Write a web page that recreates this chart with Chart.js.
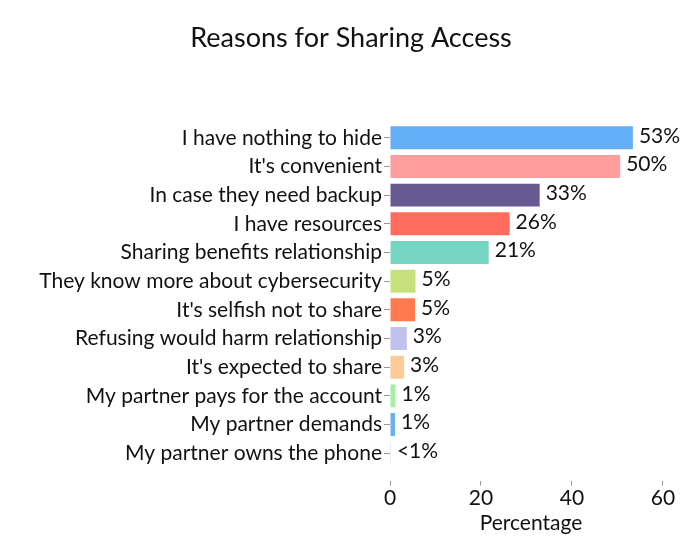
<!DOCTYPE html>
<html>
<head>
<meta charset="utf-8">
<script src="https://cdn.jsdelivr.net/npm/chart.js@4/dist/chart.umd.min.js"></script>
<style>
  html, body { margin: 0; padding: 0; background: #ffffff; }
  #wrap { width: 700px; height: 560px; position: relative; }
</style>
</head>
<body>
<div id="wrap"><canvas id="c"></canvas></div>
<script>
const categories = [
  "I have nothing to hide",
  "It's convenient",
  "In case they need backup",
  "I have resources",
  "Sharing benefits relationship",
  "They know more about cybersecurity",
  "It's selfish not to share",
  "Refusing would harm relationship",
  "It's expected to share",
  "My partner pays for the account",
  "My partner demands",
  "My partner owns the phone"
];
const values = [53.4, 50.6, 32.9, 26.3, 21.7, 5.6, 5.5, 3.7, 3.1, 1.2, 1.1, 0.2];
const valueLabels = ["53%", "50%", "33%", "26%", "21%", "5%", "5%", "3%", "3%", "1%", "1%", "<1%"];
const barColors = [
  "#64adf7", "#ff9c9c", "#675a92", "#ff6b5c", "#76d6c3", "#c6e27c",
  "#ff7a4f", "#c1c0ef", "#ffca9a", "#a3f0a3", "#6ab0f2", "#d0d0d0"
];
const xTicks = [0, 20, 40, 60];

const FONT = "Lato, 'Open Sans', sans-serif";

const valueLabelPlugin = {
  id: 'valueLabels',
  afterDatasetsDraw(chart) {
    const ctx = chart.ctx;
    const meta = chart.getDatasetMeta(0);
    ctx.save();
    ctx.font = "21px " + FONT;
    ctx.fillStyle = "#111111";
    ctx.textAlign = "left";
    ctx.textBaseline = "middle";
    meta.data.forEach((el, i) => {
      ctx.fillText(valueLabels[i], el.x + 6, el.y - 2);
    });
    ctx.restore();
  }
};

new Chart(document.getElementById('c'), {
  type: 'bar',
  data: {
    labels: categories,
    datasets: [{
      data: values,
      backgroundColor: barColors,
      borderWidth: 0,
      barPercentage: 0.8,
      categoryPercentage: 1.0
    }]
  },
  options: {
    indexAxis: 'y',
    responsive: true,
    maintainAspectRatio: false,
    animation: false,
    layout: { padding: { top: 22, right: 28, left: 30, bottom: 24 } },
    plugins: {
      legend: { display: false },
      tooltip: { enabled: false },
      title: {
        display: true,
        text: "Reasons for Sharing Access",
        color: "#111111",
        font: { family: FONT, size: 27, weight: 'normal' },
        padding: { top: 0, bottom: 69 }
      }
    },
    scales: {
      x: {
        min: 0,
        max: 62,
        afterBuildTicks(scale) {
          scale.ticks = xTicks.map(v => ({ value: v }));
        },
        border: { display: false },
        grid: {
          drawOnChartArea: false,
          drawTicks: true,
          tickLength: 18,
          tickBorderDash: [0, 13, 5, 100],
          tickColor: "#999999",
          tickWidth: 1
        },
        ticks: {
          color: "#111111",
          padding: 0,
          font: { family: FONT, size: 21 }
        },
        title: {
          display: true,
          text: "Percentage",
          color: "#111111",
          padding: { top: 0, bottom: 0 },
          font: { family: FONT, size: 21 }
        }
      },
      y: {
        afterFit(scale) { scale.width = 360; },
        border: { display: false },
        grid: {
          offset: false,
          drawOnChartArea: false,
          drawTicks: true,
          tickLength: 6,
          tickColor: "#999999",
          tickWidth: 1
        },
        ticks: {
          color: "#111111",
          padding: 2,
          autoSkip: false,
          font: { family: FONT, size: 21 }
        }
      }
    }
  },
  plugins: [valueLabelPlugin]
});
</script>
</body>
</html>
